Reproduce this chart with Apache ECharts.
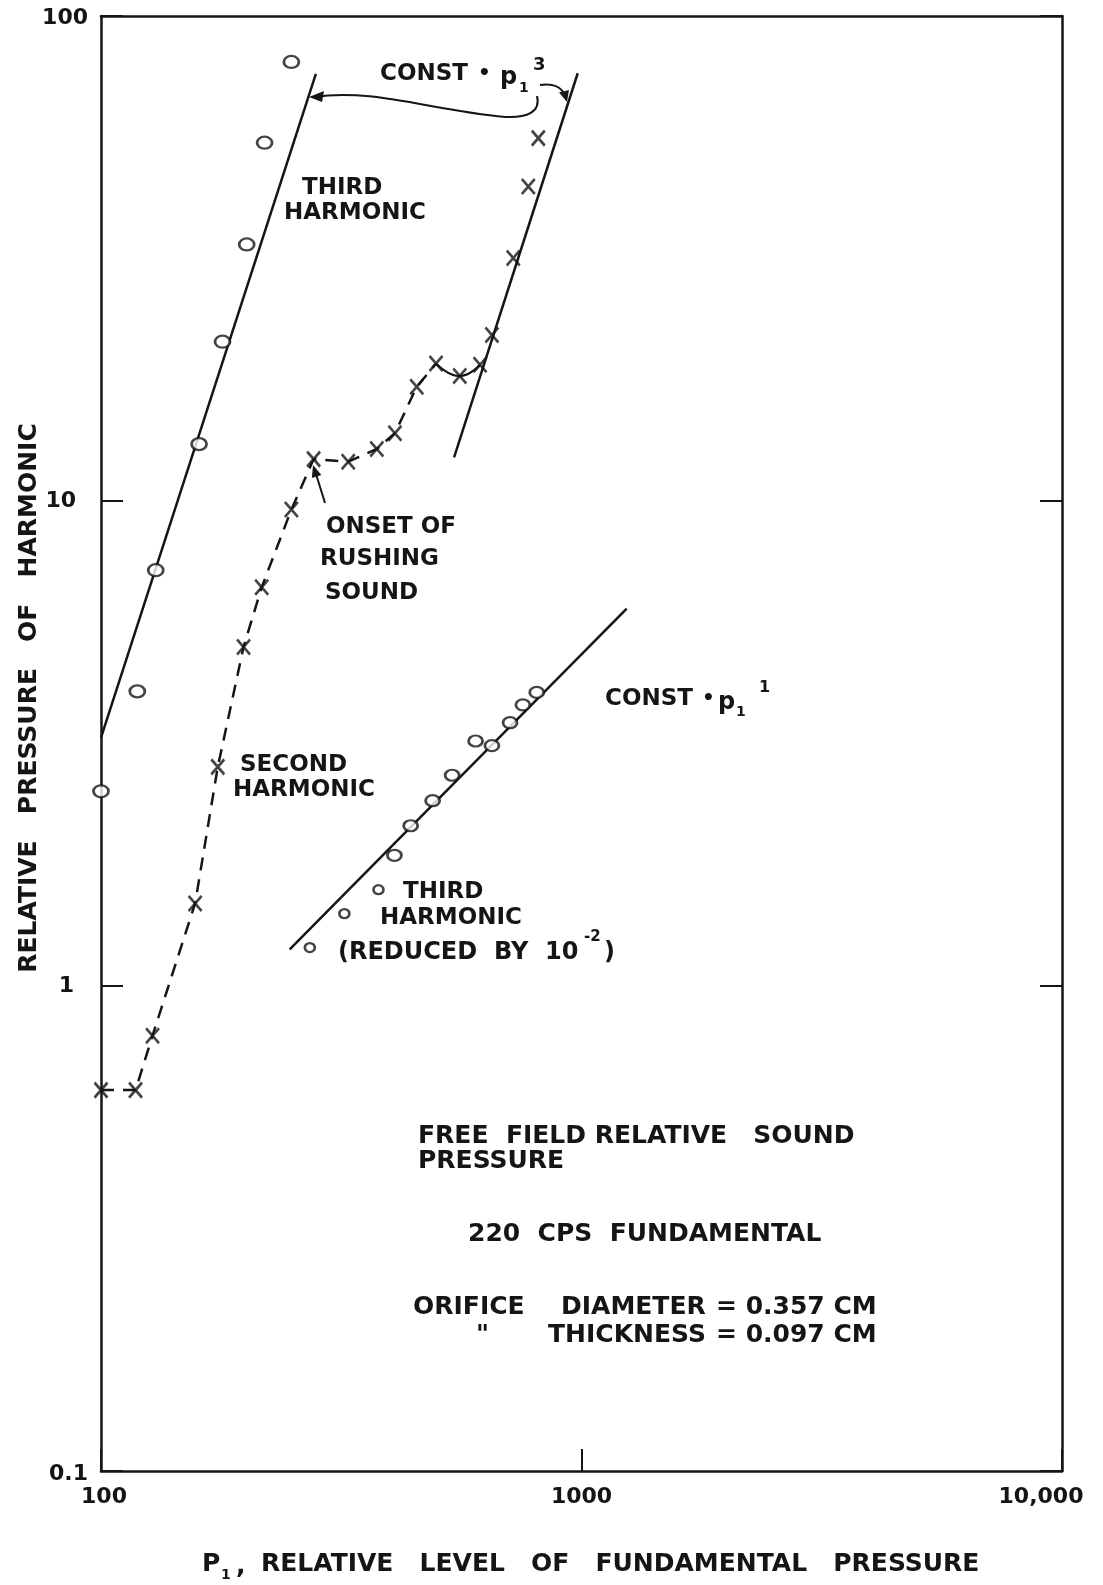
<!DOCTYPE html>
<html>
<head>
<meta charset="utf-8">
<script src="https://cdn.jsdelivr.net/npm/echarts@6/dist/echarts.min.js"></script>
<style>
html,body{margin:0;padding:0;background:#fff;overflow:hidden;}
#chart{width:1103px;height:1585px;}
</style>
</head>
<body>
<div id="chart"></div>
<script>
// ---- data ----
const xTicks = [100, 1000, 10000];
const xTickLabels = ['100', '1000', '10,000'];
const yTicks = [0.1, 1, 10, 100];
const yTickLabels = ['0.1', '1', '10', '100'];

// Third harmonic (upper, open circles)
const thirdX = [100, 119, 130, 160, 179, 201, 219, 249];
const thirdY = [2.52, 4.05, 7.2, 13.1, 21.3, 33.8, 54.8, 80.4];
// const * p1^3 fit line (left)
const thirdFitX = [100, 280];
const thirdFitY = [3.25, 76];

// Second harmonic (x marks)
const secondX = [100, 118, 128, 157, 175, 198, 216, 249, 277, 327, 375, 409, 454, 498, 558, 615, 651, 721, 775, 813];
const secondY = [0.61, 0.61, 0.79, 1.48, 2.83, 5.0, 6.64, 9.6, 12.2, 12.05, 12.8, 13.8, 17.2, 19.2, 18.1, 19.1, 22.0, 31.7, 44.5, 56.0];
const dashedEnd = 13;       // dashed curve through points 0..13
const wavyRange = [13, 15]; // solid wavy connector

// const * p1^3 fit line (right)
const cubeFitX = [543, 982];
const cubeFitY = [12.3, 76.2];

// Third harmonic reduced by 10^-2 (lower circles)
const lowX = [272, 321, 378, 408, 441, 490, 538, 602, 651, 710, 755, 807];
const lowY = [1.20, 1.41, 1.58, 1.86, 2.14, 2.41, 2.72, 3.20, 3.13, 3.49, 3.80, 4.03];
// const * p1^1 fit line
const linFitX = [247, 1242];
const linFitY = [1.19, 6.0];

const zip = (a, b) => a.map((v, i) => [v, b[i]]);
const INK = '#151515';
const FONT = '"DejaVu Sans"';

function tickIndex(ticks, v) {
  let best = -1, bd = Infinity;
  ticks.forEach((t, i) => { const d = Math.abs(Math.log10(v) - Math.log10(t)); if (d < bd) { bd = d; best = i; } });
  return bd < 0.01 ? best : -1;
}

const chart = echarts.init(document.getElementById('chart'), null, { renderer: 'canvas' });

const axisLine = { show: true, lineStyle: { color: INK, width: 2.5 } };
const lbl = { color: INK, fontFamily: FONT, fontWeight: 'bold', fontSize: 22 };

function txt(text, x, y, size, extra) {
  const st = Object.assign({ text: text, fill: INK, fontFamily: FONT, fontWeight: 'bold', fontSize: size || 23, verticalAlign: 'middle', align: 'left' }, (extra && extra.style) || {});
  const el = Object.assign({ type: 'text', x: x, y: y }, extra || {});
  el.style = st;
  return el;
}

const X_SYMBOL = 'path://M0,0 L10,12 M10,0 L0,12';

const option = {
  animation: false,
  backgroundColor: '#fff',
  grid: { left: 101, right: 41, top: 16, bottom: 114, containLabel: false },
  xAxis: [
    {
      type: 'log', logBase: 10, min: 100, max: 10000, position: 'bottom',
      axisLine: axisLine,
      axisTick: { show: true, inside: true, length: 22, lineStyle: { color: INK, width: 2 } },
      minorTick: { show: false },
      splitLine: { show: false },
      axisLabel: {
        margin: 15,
        formatter: function (v) { const i = tickIndex(xTicks, v); return i < 0 ? '' : '{x' + i + '|' + xTickLabels[i] + '}'; },
        rich: {
          x0: Object.assign({ padding: [0, 0, 0, 6] }, lbl),
          x1: Object.assign({}, lbl),
          x2: Object.assign({ padding: [0, 42, 0, 0] }, lbl)
        }
      }
    },
    {
      type: 'log', logBase: 10, min: 100, max: 10000, position: 'top',
      axisLine: axisLine, axisTick: { show: false }, axisLabel: { show: false }, splitLine: { show: false }
    }
  ],
  yAxis: [
    {
      type: 'log', logBase: 10, min: 0.1, max: 100, position: 'left',
      axisLine: axisLine,
      axisTick: { show: true, inside: true, length: 22, lineStyle: { color: INK, width: 2 } },
      splitLine: { show: false },
      axisLabel: {
        margin: 13,
        formatter: function (v) { const i = tickIndex(yTicks, v); return i < 0 ? '' : '{y' + i + '|' + yTickLabels[i] + '}'; },
        rich: {
          y0: Object.assign({ padding: [6, 0, 0, 0] }, lbl),
          y1: Object.assign({ padding: [0, 14, 0, 0] }, lbl),
          y2: Object.assign({ padding: [0, 12, 0, 0] }, lbl),
          y3: Object.assign({ padding: [4, 0, 0, 0] }, lbl)
        }
      }
    },
    {
      type: 'log', logBase: 10, min: 0.1, max: 100, position: 'right',
      axisLine: axisLine,
      axisTick: { show: true, inside: true, length: 22, lineStyle: { color: INK, width: 2 } },
      splitLine: { show: false },
      axisLabel: { show: false }
    }
  ],
  series: [
    {
      name: 'third-fit', type: 'line', data: zip(thirdFitX, thirdFitY), showSymbol: false, symbol: 'none',
      lineStyle: { color: INK, width: 2.5 }, z: 2
    },
    {
      name: 'third', type: 'scatter', data: zip(thirdX, thirdY), symbol: 'circle',
      symbolSize: [15, 12], itemStyle: { color: '#fff', borderColor: INK, borderWidth: 2.5 }, z: 3
    },
    {
      name: 'second-dashed', type: 'line', data: zip(secondX, secondY).slice(0, dashedEnd + 1),
      showSymbol: false, symbol: 'none', lineStyle: { color: INK, width: 2.5, type: [13, 9] }, z: 2
    },
    {
      name: 'second-wavy', type: 'line', data: zip(secondX, secondY).slice(wavyRange[0], wavyRange[1] + 1),
      showSymbol: false, symbol: 'none', smooth: 0.5, lineStyle: { color: INK, width: 2.2 }, z: 2
    },
    {
      name: 'second', type: 'scatter', data: zip(secondX, secondY), symbol: X_SYMBOL, symbolSize: [13, 15],
      itemStyle: { color: 'none', borderColor: INK, borderWidth: 2.7 }, z: 3
    },
    {
      name: 'cube-fit', type: 'line', data: zip(cubeFitX, cubeFitY), showSymbol: false, symbol: 'none',
      lineStyle: { color: INK, width: 2.5 }, z: 2
    },
    {
      name: 'lin-fit', type: 'line', data: zip(linFitX, linFitY), showSymbol: false, symbol: 'none',
      lineStyle: { color: INK, width: 2.5 }, z: 2
    },
    {
      name: 'low', type: 'scatter', data: zip(lowX, lowY), symbol: 'circle',
      symbolSize: function (v, p) { return p.dataIndex < 3 ? [10, 9] : [14, 11]; },
      itemStyle: { color: '#fff', borderColor: INK, borderWidth: 2.5 }, z: 3
    }
  ],
  graphic: [
    // axis titles
    txt('RELATIVE   PRESSURE   OF   HARMONIC', 29, 698, 25, { rotation: Math.PI / 2, style: { align: 'center' } }),
    txt('P', 202, 1564, 25),
    txt('1', 221, 1575, 14),
    txt(',', 236, 1566, 25),
    txt('RELATIVE   LEVEL   OF   FUNDAMENTAL   PRESSURE', 261, 1564, 25),

    // CONST . p1^3
    txt('CONST', 380, 74, 23),
    txt('\u2022', 478, 74, 20),
    txt('p', 500, 78, 24),
    txt('1', 519, 88, 14),
    txt('3', 533, 65, 18),
    { type: 'bezierCurve', shape: { x1: 537, y1: 96, cpx1: 541, cpy1: 112, cpx2: 527, cpy2: 118, x2: 505, y2: 117 }, style: { stroke: INK, lineWidth: 2, fill: null } },
    { type: 'bezierCurve', shape: { x1: 505, y1: 117, cpx1: 430, cpy1: 110, cpx2: 372, cpy2: 88, x2: 314, y2: 97 }, style: { stroke: INK, lineWidth: 2, fill: null } },
    { type: 'polygon', shape: { points: [[309, 97], [324, 91], [322, 102]] }, style: { fill: INK } },
    { type: 'bezierCurve', shape: { x1: 540, y1: 85, cpx1: 553, cpy1: 83, cpx2: 562, cpy2: 87, x2: 565, y2: 96 }, style: { stroke: INK, lineWidth: 2, fill: null } },
    { type: 'polygon', shape: { points: [[567, 102], [559, 92.5], [569, 90]] }, style: { fill: INK } },

    txt('THIRD', 302, 188, 23),
    txt('HARMONIC', 284, 213, 23),

    txt('ONSET OF', 326, 527, 23),
    txt('RUSHING', 320, 559, 23),
    txt('SOUND', 325, 593, 23),
    { type: 'line', shape: { x1: 325, y1: 503, x2: 316, y2: 474 }, style: { stroke: INK, lineWidth: 2 } },
    { type: 'polygon', shape: { points: [[313, 465], [321.4, 474.9], [311.9, 477.9]] }, style: { fill: INK } },

    txt('SECOND', 240, 765, 23),
    txt('HARMONIC', 233, 790, 23),

    // CONST . p1^1
    txt('CONST', 605, 699, 23),
    txt('\u2022', 702, 699, 20),
    txt('p', 718, 703, 24),
    txt('1', 736, 712, 14),
    txt('1', 759, 688, 16),

    txt('THIRD', 403, 892, 23),
    txt('HARMONIC', 380, 918, 23),
    txt('(REDUCED  BY  10', 338, 953, 24),
    txt('-2', 584, 937, 15),
    txt(')', 604, 953, 24),

    txt('FREE  FIELD RELATIVE   SOUND', 418, 1136, 25),
    txt('PRESSURE', 418, 1161, 25),
    txt('220  CPS  FUNDAMENTAL', 468, 1234, 25),
    txt('ORIFICE', 413, 1307, 25),
    txt('DIAMETER', 561, 1307, 25),
    txt('= 0.357 CM', 716, 1307, 25),
    txt('"', 476, 1335, 25),
    txt('THICKNESS', 548, 1335, 25),
    txt('= 0.097 CM', 716, 1335, 25)
  ]
};

chart.setOption(option);
</script>
</body>
</html>
